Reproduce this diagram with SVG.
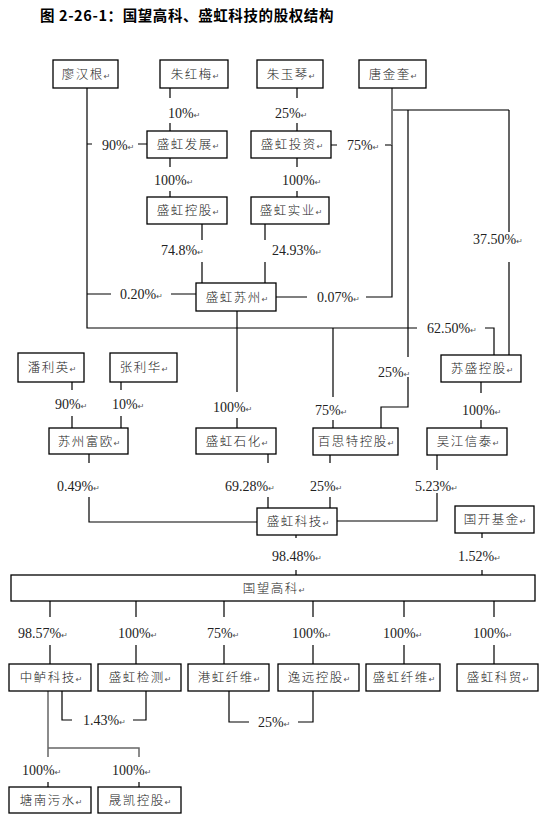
<svg xmlns="http://www.w3.org/2000/svg" width="544" height="818" viewBox="0 0 544 818">
<style>
.bx rect{fill:#fff;stroke:#000;stroke-width:1.3}
.bt{font-family:"Noto Sans CJK SC","Noto Sans CJK JP",sans-serif;font-size:12.5px;font-weight:300;letter-spacing:1.5px;fill:#222;text-anchor:middle}
.lb{font-family:"Liberation Serif","Times New Roman",serif;font-size:14px;fill:#222}
.rt{font-family:"DejaVu Sans",sans-serif;font-size:8px;font-weight:normal;fill:#555;letter-spacing:0}
.ln{fill:none;stroke:#000;stroke-width:1.2}
.gl{fill:none;stroke:#777;stroke-width:2}
.ttl{font-family:"Noto Sans CJK SC",sans-serif;font-size:14.5px;font-weight:bold;letter-spacing:0.6px;fill:#000}
</style>
<rect width="544" height="818" fill="#fff"/>
<text class="ttl" x="40" y="21">图 2-26-1：国望高科、盛虹科技的股权结构</text>

<g id="connectors">
<path class="ln" d="M87,88 V328 H417 M485,328 H494 V355"/>
<path class="ln" d="M333,328 V397 M333,420 V428"/>
<path class="ln" d="M87,144 H92 M138,144 H147"/>
<path class="ln" d="M87,294 H111 M171,294 H196"/>
<path class="ln" d="M170,88 V98 M170,123 V131"/>
<path class="ln" d="M170,158 V167 M170,191 V197"/>
<path class="ln" d="M202,224 V240 M202,262 V283"/>
<path class="ln" d="M297,88 V98 M297,123 V131"/>
<path class="ln" d="M297,158 V167 M297,191 V197"/>
<path class="ln" d="M265,224 V240 M265,262 V283"/>
<path class="gl" d="M392,88 V145 M392,110 H509 M392,145 H385"/>
<path class="ln" d="M392,145 V297 H366 M307,297 H276 M337,145 H331"/>
<path class="ln" d="M509,110 V232 M509,262 V355"/>
<path class="ln" d="M408,110 V357 M408,377 V407 H381 V428"/>
<path class="ln" d="M237,311 V392 M237,418 V428"/>
<path class="ln" d="M72,382 V390 M72,416 V428"/>
<path class="ln" d="M121,382 V390 M121,416 V428"/>
<path class="ln" d="M481,382 V393 M481,420 V428"/>
<path class="ln" d="M89,454 V463 M89,497 V522 H257"/>
<path class="ln" d="M268,454 V463 M268,497 V508"/>
<path class="ln" d="M330,455 V463 M330,497 V508"/>
<path class="ln" d="M437,455 V470 M437,493 V521 H337"/>
<path class="ln" d="M296,535 V538 M296,570 V575"/>
<path class="ln" d="M482,533 V538 M482,570 V575"/>
<path class="ln" d="M50,601 V617 M50,645 V664 M136,601 V617 M136,645 V664 M224,601 V617 M224,645 V664 M313,601 V617 M313,645 V664 M404,601 V617 M404,645 V664 M494,601 V617 M494,645 V664"/>
<path class="ln" d="M62,691 V720 H72 M133,720 H146 V691"/>
<path class="ln" d="M229,691 V722 H249 M298,722 H313 V691"/>
<path class="gl" d="M48,691 V757 M48,748 H139 V757" style="stroke-width:1.5;stroke:#666"/>
<path class="ln" d="M48,782 V787 M139,782 V787"/>
</g>

<g id="labels">
<text class="lb" x="168" y="118">10%<tspan class="rt">↵</tspan></text>
<text class="lb" x="275" y="118">25%<tspan class="rt">↵</tspan></text>
<text class="lb" x="102" y="150">90%<tspan class="rt">↵</tspan></text>
<text class="lb" x="347" y="150">75%<tspan class="rt">↵</tspan></text>
<text class="lb" x="154" y="185">100%<tspan class="rt">↵</tspan></text>
<text class="lb" x="282" y="185">100%<tspan class="rt">↵</tspan></text>
<text class="lb" x="161" y="255">74.8%<tspan class="rt">↵</tspan></text>
<text class="lb" x="272" y="255">24.93%<tspan class="rt">↵</tspan></text>
<text class="lb" x="473" y="244">37.50%<tspan class="rt">↵</tspan></text>
<text class="lb" x="120" y="299">0.20%<tspan class="rt">↵</tspan></text>
<text class="lb" x="317" y="302">0.07%<tspan class="rt">↵</tspan></text>
<text class="lb" x="427" y="333">62.50%<tspan class="rt">↵</tspan></text>
<text class="lb" x="378" y="377">25%<tspan class="rt">↵</tspan></text>
<text class="lb" x="55" y="409">90%<tspan class="rt">↵</tspan></text>
<text class="lb" x="112" y="409">10%<tspan class="rt">↵</tspan></text>
<text class="lb" x="213" y="412">100%<tspan class="rt">↵</tspan></text>
<text class="lb" x="315" y="415">75%<tspan class="rt">↵</tspan></text>
<text class="lb" x="462" y="415">100%<tspan class="rt">↵</tspan></text>
<text class="lb" x="57" y="491">0.49%<tspan class="rt">↵</tspan></text>
<text class="lb" x="225" y="491">69.28%<tspan class="rt">↵</tspan></text>
<text class="lb" x="310" y="491">25%<tspan class="rt">↵</tspan></text>
<text class="lb" x="415" y="491">5.23%<tspan class="rt">↵</tspan></text>
<text class="lb" x="272" y="561">98.48%<tspan class="rt">↵</tspan></text>
<text class="lb" x="458" y="561">1.52%<tspan class="rt">↵</tspan></text>
<text class="lb" x="18" y="638">98.57%<tspan class="rt">↵</tspan></text>
<text class="lb" x="118" y="638">100%<tspan class="rt">↵</tspan></text>
<text class="lb" x="207" y="638">75%<tspan class="rt">↵</tspan></text>
<text class="lb" x="292" y="638">100%<tspan class="rt">↵</tspan></text>
<text class="lb" x="383" y="638">100%<tspan class="rt">↵</tspan></text>
<text class="lb" x="473" y="638">100%<tspan class="rt">↵</tspan></text>
<text class="lb" x="83" y="725">1.43%<tspan class="rt">↵</tspan></text>
<text class="lb" x="258" y="727">25%<tspan class="rt">↵</tspan></text>
<text class="lb" x="22" y="775">100%<tspan class="rt">↵</tspan></text>
<text class="lb" x="112" y="775">100%<tspan class="rt">↵</tspan></text>
</g>

<g id="n1" class="bx"><rect x="53" y="60" width="65" height="28"/><text class="bt" x="86" y="79">廖汉根<tspan class="rt">↵</tspan></text></g>
<g id="n2" class="bx"><rect x="160" y="60" width="68" height="28"/><text class="bt" x="195" y="79">朱红梅<tspan class="rt">↵</tspan></text></g>
<g id="n3" class="bx"><rect x="257" y="60" width="66" height="28"/><text class="bt" x="291" y="79">朱玉琴<tspan class="rt">↵</tspan></text></g>
<g id="n4" class="bx"><rect x="359" y="60" width="67" height="28"/><text class="bt" x="393" y="79">唐金奎<tspan class="rt">↵</tspan></text></g>
<g id="n5" class="bx"><rect x="147" y="131" width="80" height="27"/><text class="bt" x="188" y="149">盛虹发展<tspan class="rt">↵</tspan></text></g>
<g id="n6" class="bx"><rect x="251" y="131" width="80" height="27"/><text class="bt" x="292" y="149">盛虹投资<tspan class="rt">↵</tspan></text></g>
<g id="n7" class="bx"><rect x="147" y="197" width="80" height="27"/><text class="bt" x="188" y="215">盛虹控股<tspan class="rt">↵</tspan></text></g>
<g id="n8" class="bx"><rect x="251" y="197" width="78" height="27"/><text class="bt" x="291" y="215">盛虹实业<tspan class="rt">↵</tspan></text></g>
<g id="n9" class="bx"><rect x="196" y="283" width="80" height="28"/><text class="bt" x="237" y="302">盛虹苏州<tspan class="rt">↵</tspan></text></g>
<g id="n10" class="bx"><rect x="18" y="353" width="66" height="29"/><text class="bt" x="52" y="372">潘利英<tspan class="rt">↵</tspan></text></g>
<g id="n11" class="bx"><rect x="110" y="353" width="67" height="29"/><text class="bt" x="144" y="372">张利华<tspan class="rt">↵</tspan></text></g>
<g id="n12" class="bx"><rect x="441" y="355" width="80" height="27"/><text class="bt" x="482" y="373">苏盛控股<tspan class="rt">↵</tspan></text></g>
<g id="n13" class="bx"><rect x="49" y="428" width="79" height="26"/><text class="bt" x="89" y="446">苏州富欧<tspan class="rt">↵</tspan></text></g>
<g id="n14" class="bx"><rect x="196" y="428" width="80" height="26"/><text class="bt" x="237" y="446">盛虹石化<tspan class="rt">↵</tspan></text></g>
<g id="n15" class="bx"><rect x="313" y="428" width="85" height="27"/><text class="bt" x="356" y="446">百思特控股<tspan class="rt">↵</tspan></text></g>
<g id="n16" class="bx"><rect x="427" y="428" width="80" height="27"/><text class="bt" x="468" y="446">吴江信泰<tspan class="rt">↵</tspan></text></g>
<g id="n17" class="bx"><rect x="257" y="508" width="80" height="27"/><text class="bt" x="298" y="526">盛虹科技<tspan class="rt">↵</tspan></text></g>
<g id="n18" class="bx"><rect x="455" y="506" width="79" height="27"/><text class="bt" x="495" y="524">国开基金<tspan class="rt">↵</tspan></text></g>
<g id="n19" class="bx"><rect x="11" y="575" width="524" height="26"/><text class="bt" x="274" y="593">国望高科<tspan class="rt">↵</tspan></text></g>
<g id="n20" class="bx"><rect x="9" y="664" width="82" height="27"/><text class="bt" x="51" y="682">中鲈科技<tspan class="rt">↵</tspan></text></g>
<g id="n21" class="bx"><rect x="98" y="664" width="83" height="27"/><text class="bt" x="140" y="682">盛虹检测<tspan class="rt">↵</tspan></text></g>
<g id="n22" class="bx"><rect x="188" y="664" width="81" height="27"/><text class="bt" x="229" y="682">港虹纤维<tspan class="rt">↵</tspan></text></g>
<g id="n23" class="bx"><rect x="278" y="664" width="81" height="27"/><text class="bt" x="319" y="682">逸远控股<tspan class="rt">↵</tspan></text></g>
<g id="n24" class="bx"><rect x="366" y="664" width="74" height="27"/><text class="bt" x="404" y="682">盛虹纤维<tspan class="rt">↵</tspan></text></g>
<g id="n25" class="bx"><rect x="457" y="664" width="81" height="27"/><text class="bt" x="498" y="682">盛虹科贸<tspan class="rt">↵</tspan></text></g>
<g id="n26" class="bx"><rect x="9" y="787" width="82" height="26"/><text class="bt" x="51" y="805">塘南污水<tspan class="rt">↵</tspan></text></g>
<g id="n27" class="bx"><rect x="98" y="787" width="83" height="26"/><text class="bt" x="140" y="805">晟凯控股<tspan class="rt">↵</tspan></text></g>
</svg>
